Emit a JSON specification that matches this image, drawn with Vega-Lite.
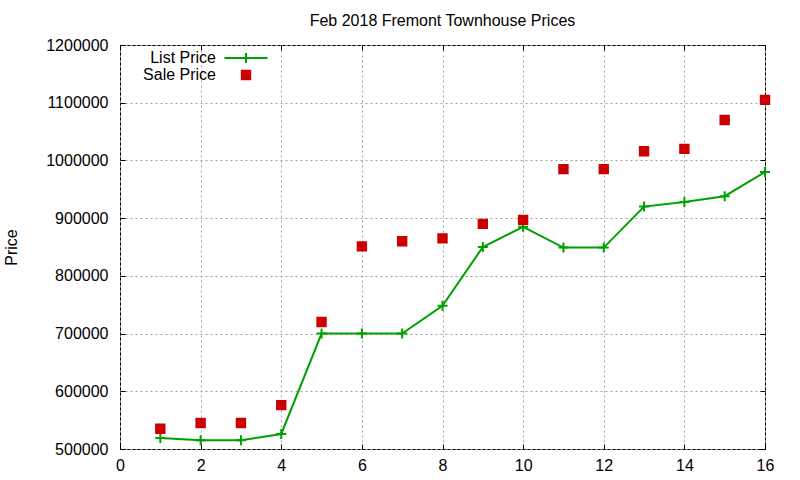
{
  "$schema": "https://vega.github.io/schema/vega-lite/v6.json",
  "autosize": {"type": "none"},
  "padding": {"left": 120, "top": 45, "right": 35, "bottom": 31},
  "width": 645,
  "height": 404,
  "title": {
    "text": "Feb 2018 Fremont Townhouse Prices",
    "font": "Liberation Sans",
    "fontSize": 16,
    "fontWeight": "normal",
    "color": "black",
    "offset": 8
  },
  "data": {
    "values": [
      {"unit": 1, "price": 519000, "series": "List Price"},
      {"unit": 2, "price": 515000, "series": "List Price"},
      {"unit": 3, "price": 515000, "series": "List Price"},
      {"unit": 4, "price": 526000, "series": "List Price"},
      {"unit": 5, "price": 700000, "series": "List Price"},
      {"unit": 6, "price": 700000, "series": "List Price"},
      {"unit": 7, "price": 700000, "series": "List Price"},
      {"unit": 8, "price": 748000, "series": "List Price"},
      {"unit": 9, "price": 850000, "series": "List Price"},
      {"unit": 10, "price": 885000, "series": "List Price"},
      {"unit": 11, "price": 849000, "series": "List Price"},
      {"unit": 12, "price": 849000, "series": "List Price"},
      {"unit": 13, "price": 920000, "series": "List Price"},
      {"unit": 14, "price": 928000, "series": "List Price"},
      {"unit": 15, "price": 938000, "series": "List Price"},
      {"unit": 16, "price": 980000, "series": "List Price"},
      {"unit": 1, "price": 535000, "series": "Sale Price"},
      {"unit": 2, "price": 545000, "series": "Sale Price"},
      {"unit": 3, "price": 545000, "series": "Sale Price"},
      {"unit": 4, "price": 576000, "series": "Sale Price"},
      {"unit": 5, "price": 720000, "series": "Sale Price"},
      {"unit": 6, "price": 851000, "series": "Sale Price"},
      {"unit": 7, "price": 860000, "series": "Sale Price"},
      {"unit": 8, "price": 865000, "series": "Sale Price"},
      {"unit": 9, "price": 890000, "series": "Sale Price"},
      {"unit": 10, "price": 897000, "series": "Sale Price"},
      {"unit": 11, "price": 985000, "series": "Sale Price"},
      {"unit": 12, "price": 985000, "series": "Sale Price"},
      {"unit": 13, "price": 1016000, "series": "Sale Price"},
      {"unit": 14, "price": 1020000, "series": "Sale Price"},
      {"unit": 15, "price": 1070000, "series": "Sale Price"},
      {"unit": 16, "price": 1105000, "series": "Sale Price"}
    ]
  },
  "layer": [
    {
      "transform": [{"filter": "datum.series == 'List Price'"}],
      "mark": {"type": "line", "color": "#00a000", "strokeWidth": 2},
      "encoding": {
        "x": {
          "field": "unit", "type": "quantitative",
          "scale": {"domain": [0, 16], "nice": false},
          "axis": {"orient": "bottom", "values": [0, 2, 4, 6, 8, 10, 12, 14, 16], "title": null, "labelPadding": 13}
        },
        "y": {
          "field": "price", "type": "quantitative",
          "scale": {"domain": [500000, 1200000], "nice": false, "zero": false},
          "axis": {"orient": "left", "format": "d", "values": [500000, 600000, 700000, 800000, 900000, 1000000, 1100000, 1200000], "title": "Price", "labelPadding": 17, "titlePadding": 26}
        }
      }
    },
    {
      "mark": {
        "type": "point",
        "filled": false,
        "strokeWidth": 2,
        "opacity": 1,
        "size": 100,
        "shape": {"expr": "datum.series ? (datum.series == 'List Price' ? 'M-1,0L1,0M0,-1L0,1' : 'M-0.84,-0.84L0.84,-0.84L0.84,0.84L-0.84,0.84Z') : (datum.value == 'List Price' ? 'M-4.3,0L4.3,0M0,-1L0,1' : 'M-0.84,-0.84L0.84,-0.84L0.84,0.84L-0.84,0.84Z')"}
      },
      "encoding": {
        "x": {
          "field": "unit", "type": "quantitative",
          "axis": {"orient": "top", "values": [0, 2, 4, 6, 8, 10, 12, 14, 16], "labels": false, "grid": false, "title": null}
        },
        "y": {
          "field": "price", "type": "quantitative",
          "axis": {"orient": "right", "values": [500000, 600000, 700000, 800000, 900000, 1000000, 1100000, 1200000], "labels": false, "grid": false, "title": null}
        },
        "color": {
          "field": "series", "type": "nominal",
          "scale": {"domain": ["List Price", "Sale Price"], "range": ["#00a000", "#cc0000"]},
          "legend": {
            "title": null,
            "orient": "none",
            "legendX": 118,
            "legendY": 5,
            "labelAlign": "right",
            "labelOffset": -38,
            "labelFont": "Liberation Sans",
            "labelFontSize": 16,
            "labelColor": "black",
            "rowPadding": -4,
            "symbolStrokeWidth": 2,
            "symbolSize": 100
          }
        },
        "fill": {
          "field": "series", "type": "nominal",
          "scale": {"domain": ["List Price", "Sale Price"], "range": ["transparent", "#cc0000"]},
          "legend": null
        }
      }
    }
  ],
  "resolve": {"axis": {"x": "independent", "y": "independent"}},
  "config": {
    "background": "white",
    "view": {"stroke": "black", "strokeWidth": 1},
    "axis": {
      "domain": false,
      "tickSize": -5,
      "tickColor": "black",
      "labelFont": "Liberation Sans",
      "labelFontSize": 16,
      "labelColor": "black",
      "titleFont": "Liberation Sans",
      "titleFontSize": 16,
      "titleFontWeight": "normal",
      "titleColor": "black",
      "gridColor": "#a0a0a0",
      "gridDash": [2, 3],
      "gridOpacity": 1,
      "labelFlush": false,
      "labelOverlap": false
    }
  }
}
